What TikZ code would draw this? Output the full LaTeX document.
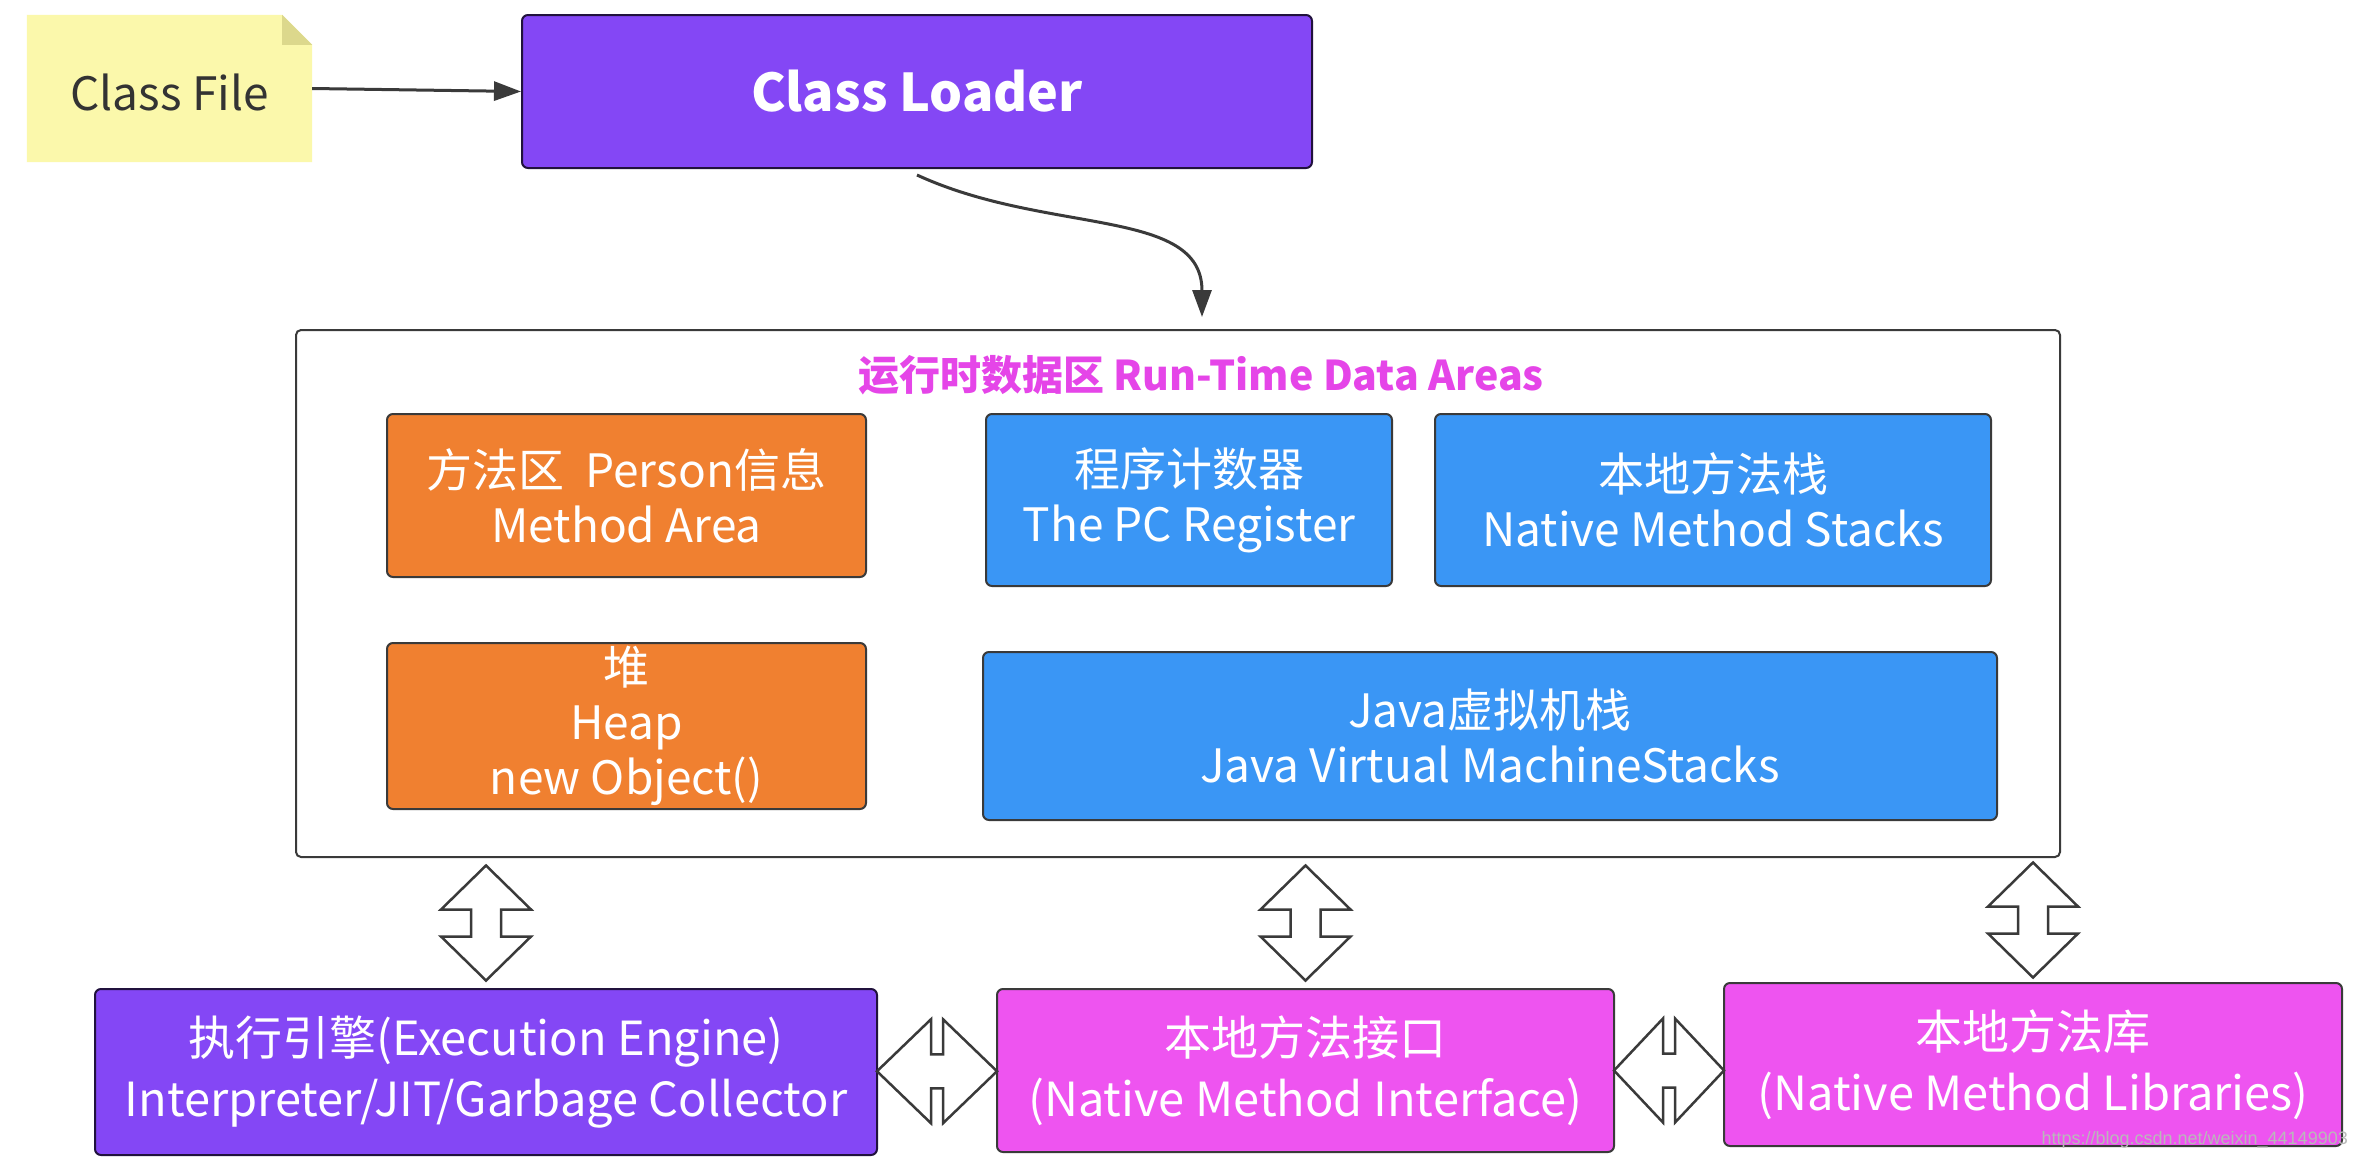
\documentclass[tikz,border=0pt]{standalone}
\usepackage{fontspec}
\setmainfont{Noto Sans CJK SC}
\newfontfamily\wmfont{Liberation Sans}
\usetikzlibrary{arrows.meta,calc}
\definecolor{notey}{HTML}{FBF8AB}
\definecolor{notefold}{HTML}{DCD88C}
\definecolor{jpurple}{HTML}{8447F5}
\definecolor{jorange}{HTML}{F08030}
\definecolor{jblue}{HTML}{3A96F5}
\definecolor{jpink}{HTML}{EE54F0}
\definecolor{jtitle}{HTML}{E545E8}
\definecolor{edge}{HTML}{3A3A3A}
\tikzset{
  box/.style={draw=edge, line width=2pt, rounded corners=6pt, text=white, align=center,
    inner sep=0pt, font=\fontsize{46}{55}\selectfont},
  purplebox/.style={box, fill=jpurple, draw=black!75!jpurple},
  orangebox/.style={box, fill=jorange},
  bluebox/.style={box, fill=jblue},
  pinkbox/.style={box, fill=jpink},
  conn/.style={draw=edge, line width=3pt, -{Triangle[length=27pt,width=19pt]}},
  dblarrow/.style={draw=edge, line width=2.5pt, fill=white, line join=miter},
  vdbl/.pic={\path[dblarrow] (0,-57.5) -- (45,-13.5) -- (15,-13.5) -- (15,13.5) -- (45,13.5) -- (0,57.5)
      -- (-45,13.5) -- (-15,13.5) -- (-15,-13.5) -- (-45,-13.5) -- cycle;},
  hdbl/.pic={\path[dblarrow] (-#1,0) -- (-6,-52) -- (-6,-17) -- (6,-17) -- (6,-52) -- (#1,0)
      -- (6,52) -- (6,17) -- (-6,17) -- (-6,52) -- cycle;}
}
\begin{document}
\begin{tikzpicture}[x=1pt,y=-1pt]
\useasboundingbox[fill=white] (0,0) rectangle (2354,1162);

% Class File note
\node[minimum width=285pt, minimum height=147pt, inner sep=0pt] (cf) at (169.5,88.5) {};
\fill[notey] (cf.south west) -- (cf.north west) -- ([xshift=-30pt]cf.north east)
  -- ([yshift=-30pt]cf.north east) -- (cf.south east) -- cycle;
\fill[notefold] ([xshift=-30pt]cf.north east) -- ([yshift=-30pt]cf.north east)
  -- ([xshift=-30pt,yshift=-30pt]cf.north east) -- cycle;
\node[text=black!80, font=\fontsize{46}{54}\selectfont] at ([yshift=-4pt]cf.center) {Class File};

% Class Loader
\node[purplebox, minimum width=790pt, minimum height=153pt, font=\fontsize{52}{60}\selectfont\bfseries] (cl) at (917,91.5) {Class Loader};

% Runtime data areas
\node[draw=edge, line width=2pt, rounded corners=5pt, fill=white, minimum width=1764pt, minimum height=527pt] (rt) at (1178,593.5) {};
\node[text=jtitle, font=\fontsize{41}{48}\selectfont\bfseries] (title) at (1201,375) {运行时数据区 Run-Time Data Areas};

\node[orangebox, minimum width=479pt, minimum height=163pt] (ma) at (626.5,495.5) {方法区~~Person信息\\Method Area};
\node[orangebox, minimum width=479pt, minimum height=166pt] (heap) at (626.5,726) {堆\\Heap\\new Object()};
\node[bluebox, minimum width=406pt, minimum height=172pt] (pc) at (1189,500) {程序计数器\\The PC Register};
\node[bluebox, minimum width=556pt, minimum height=172pt] (nms) at (1713,500) {本地方法栈\\Native Method Stacks};
\node[bluebox, minimum width=1014pt, minimum height=168pt] (jvms) at (1490,736) {Java虚拟机栈\\Java Virtual MachineStacks};

% Bottom row
\node[purplebox, minimum width=782pt, minimum height=166pt, font=\fontsize{47}{61}\selectfont] (ee) at (486,1072) {执行引擎(Execution Engine)\\Interpreter/JIT/Garbage Collector};
\node[pinkbox, minimum width=617pt, minimum height=163pt, font=\fontsize{47}{61}\selectfont] (nmi) at (1305.5,1070.5) {本地方法接口\\(Native Method Interface)};
\node[pinkbox, minimum width=618pt, minimum height=163pt, font=\fontsize{47}{61}\selectfont] (nml) at (2033,1064.5) {本地方法库\\(Native Method Libraries)};

% Connectors
\draw[conn] (cf.east) -- (cl.west);
\coordinate (cls) at ([yshift=-6pt]cl.south);
\coordinate (rtn) at ([xshift=24pt,yshift=12pt]rt.north);
\draw[conn] (cls) .. controls ($(cls)+(130,60)$) and ($(rtn)+(0,-110)$) .. (rtn);

% Double arrows
\pic at ($(rt.south -| ee.center)!0.5!(ee.north)$) {vdbl};
\pic at ($(rt.south -| nmi.center)!0.5!(nmi.north)$) {vdbl};
\pic at ($(rt.south -| nml.center)!0.5!(nml.north)$) {vdbl};
\pic at ($(ee.east)!0.5!(nmi.west)$) {hdbl=60};
\pic at ($(nmi.east)!0.5!(nml.west |- nmi.east)$) {hdbl=55};

% Watermark
\node[anchor=east, text=gray!55, font=\wmfont\fontsize{18}{20}\selectfont, inner sep=0pt] (wm) at (2348,1140) {https://blog.csdn.net/weixin\_44149903};
\end{tikzpicture}
\end{document}
